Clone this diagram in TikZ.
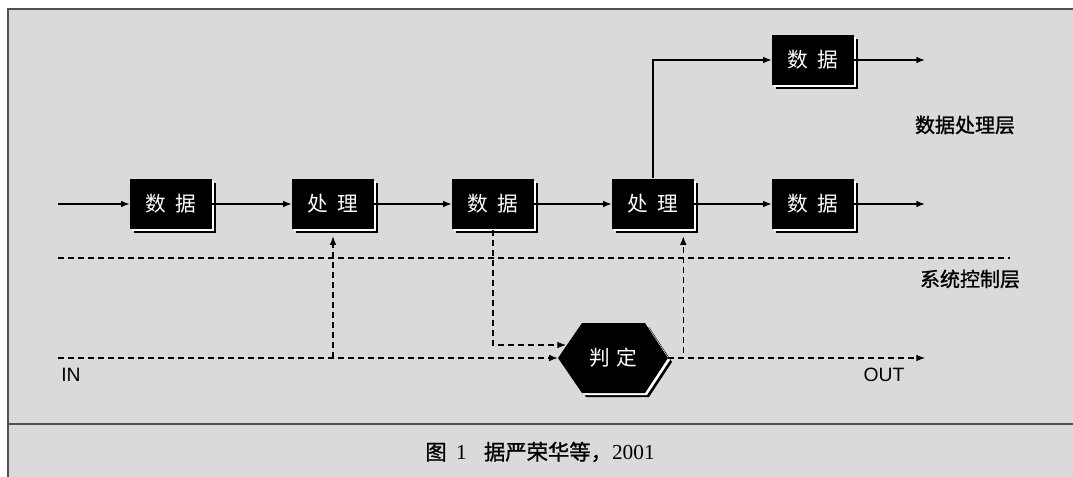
\documentclass[tikz,border=0pt]{standalone}
\usepackage{fontspec}
\newfontfamily\cjk{Noto Sans CJK SC}
\newfontfamily\cjkb[FakeBold=1.2]{Noto Sans CJK SC}
\newfontfamily\lsans{Liberation Sans}
\newfontfamily\lserif{Liberation Serif}
\usetikzlibrary{arrows.meta,shadows,calc}
\definecolor{bg}{RGB}{218,218,218}
\definecolor{framec}{RGB}{80,80,80}
\begin{document}
\begin{tikzpicture}[x=0.75pt,y=-0.75pt,
 box/.style={fill=black, text=white, minimum width=61.5pt, minimum height=38pt, inner sep=0pt,
   font=\cjk\fontsize{15.5}{15.5}\selectfont,
   general shadow={fill=black, shadow xshift=3pt, shadow yshift=-3pt},
   general shadow={fill=white, shadow xshift=1.5pt, shadow yshift=-1.5pt}},
 flow/.style={line width=1pt, -{Latex[length=6.5pt,width=5pt]}},
 ctrl/.style={line width=0.85pt, dash pattern=on 4.5pt off 3pt, -{Latex[length=6.5pt,width=5pt]}},
 sepline/.style={line width=1pt, dash pattern=on 4.5pt off 3pt},
 lbl/.style={font=\cjkb\fontsize{15}{15}\selectfont, inner sep=0pt},
 io/.style={font=\lsans\fontsize{14.5}{14.5}\selectfont, inner sep=0pt}]
\useasboundingbox (0,0) rectangle (1073,477);
\fill[white] (0,0) rectangle (1073,477);
\fill[bg] (8,9) rectangle (1073,477);
\draw[framec, line width=1.2pt] (8,477) -- (8,9) -- (1073,9);
\draw[framec, line width=1.3pt] (8,424) -- (1073,424);

% decision hexagon
\coordinate (J) at (613,358);
\fill[black,
   general shadow={fill=black, shadow xshift=3pt, shadow yshift=-3pt},
   general shadow={fill=white, shadow xshift=1.5pt, shadow yshift=-1.5pt}]
   ($(J)+(-55,0)$) -- ++(24,-35) -- ++(63,0) -- ++(23,35) -- ++(-23,35) -- ++(-63,0) -- cycle;
\node[inner sep=0pt, text=white, font=\cjk\fontsize{15.5}{15.5}\selectfont, minimum width=82.5pt, minimum height=52.5pt] (judge) at (J) {判\hspace{5pt}定};

% boxes
\node[box] (d1) at (171,204) {数\hspace{7pt}据};
\node[box] (p1) at (333,204) {处\hspace{7pt}理};
\node[box] (d2) at (493,204) {数\hspace{7pt}据};
\node[box] (p2) at (653,204) {处\hspace{7pt}理};
\node[box] (d3) at (813,204) {数\hspace{7pt}据};
\node[box] (d4) at (813,60) {数\hspace{7pt}据};

\coordinate (start) at (58,204);
\coordinate (end1) at (925,60);
\coordinate (end2) at (925,204);
\coordinate (inS) at (58,358);
\coordinate (outE) at (925,358);
\coordinate (sepL) at (58,258);
\coordinate (sepR) at (1010,258);
\coordinate (jin) at (566,345);

% data flow
\draw[flow] (start) -- (d1);
\draw[flow] (d1) -- (p1);
\draw[flow] (p1) -- (d2);
\draw[flow] (d2) -- (p2);
\draw[flow] (p2) -- (d3);
\draw[flow] (p2.north) |- (d4.west);
\draw[flow] (d4) -- (end1);
\draw[flow] (d3) -- (end2);

% layer separator
\draw[sepline] (sepL) -- (sepR);

% control flow
\draw[ctrl] (inS) -- (judge.west);
\draw[ctrl] (judge.east) -- (outE);
\draw[ctrl] (p1.south |- judge.west) -- ([yshift=-5pt]p1.south);
\draw[ctrl] (d2.south) |- (jin);
\draw[ctrl] (judge.east) -| ([xshift=-8.25pt,yshift=-5pt]p2.south east);

% labels
\node[lbl] (lp) at (965,125) {数据处理层};
\node[lbl] (lc) at (970,279) {系统控制层};
\node[io] (in) at (71,375) {IN};
\node[io] (out) at (884,375) {OUT};
\node[font=\cjkb\fontsize{16}{16}\selectfont, inner sep=0pt] (cap) at (540,452)
  {图\hspace{7pt}{\lserif 1}\hspace{13pt}据严荣华等，{\lserif 2001}};
\end{tikzpicture}
\end{document}
